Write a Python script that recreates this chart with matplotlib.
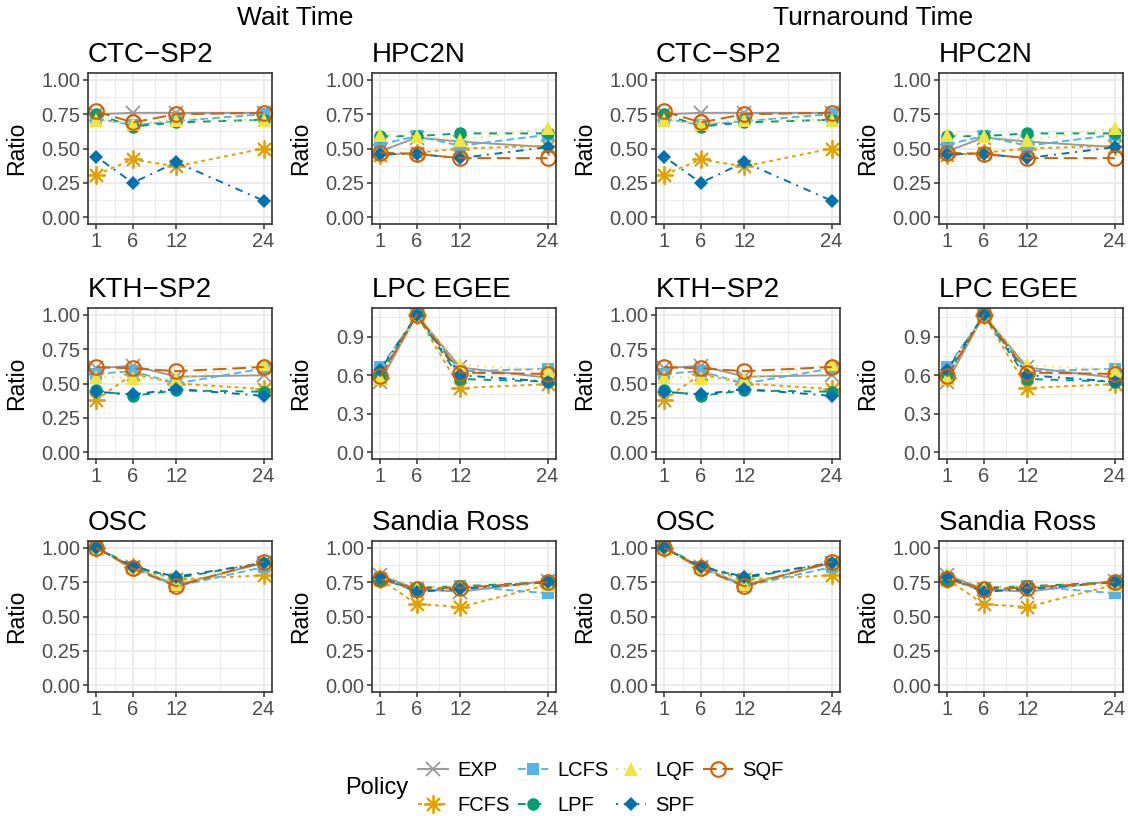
import matplotlib
matplotlib.use('Agg')
import matplotlib.pyplot as plt
from matplotlib.lines import Line2D

plt.rcParams['font.family'] = ['Liberation Sans', 'DejaVu Sans']

# window length (hours)
hours = [1, 6, 12, 24]
policies = ['EXP', 'FCFS', 'LCFS', 'LPF', 'LQF', 'SPF', 'SQF']

# ratio per policy (same values in both halves)
ctc_sp2 = {
    'EXP':  [0.75, 0.76, 0.76, 0.76],
    'FCFS': [0.31, 0.42, 0.37, 0.50],
    'LCFS': [0.72, 0.67, 0.70, 0.75],
    'LPF':  [0.75, 0.66, 0.69, 0.71],
    'LQF':  [0.71, 0.68, 0.71, 0.71],
    'SPF':  [0.44, 0.25, 0.40, 0.12],
    'SQF':  [0.77, 0.69, 0.75, 0.76],
}
hpc2n = {
    'EXP':  [0.48, 0.58, 0.55, 0.51],
    'FCFS': [0.45, 0.47, 0.50, 0.52],
    'LCFS': [0.53, 0.59, 0.52, 0.60],
    'LPF':  [0.59, 0.59, 0.61, 0.61],
    'LQF':  [0.60, 0.59, 0.56, 0.65],
    'SPF':  [0.46, 0.46, 0.43, 0.51],
    'SQF':  [0.47, 0.46, 0.43, 0.43],
}
kth_sp2 = {
    'EXP':  [0.61, 0.63, 0.55, 0.56],
    'FCFS': [0.38, 0.57, 0.50, 0.46],
    'LCFS': [0.57, 0.59, 0.50, 0.61],
    'LPF':  [0.45, 0.41, 0.45, 0.44],
    'LQF':  [0.55, 0.54, 0.53, 0.64],
    'SPF':  [0.44, 0.42, 0.46, 0.41],
    'SQF':  [0.62, 0.61, 0.59, 0.62],
}
lpc_egee = {
    'EXP':  [0.55, 1.07, 0.66, 0.58],
    'FCFS': [0.58, 1.07, 0.50, 0.53],
    'LCFS': [0.66, 1.06, 0.63, 0.65],
    'LPF':  [0.60, 1.07, 0.57, 0.55],
    'LQF':  [0.58, 1.07, 0.68, 0.64],
    'SPF':  [0.64, 1.07, 0.60, 0.55],
    'SQF':  [0.59, 1.07, 0.62, 0.61],
}
osc = {
    'EXP':  [1.00, 0.86, 0.73, 0.89],
    'FCFS': [1.00, 0.86, 0.77, 0.80],
    'LCFS': [1.00, 0.86, 0.72, 0.86],
    'LPF':  [1.00, 0.87, 0.78, 0.89],
    'LQF':  [1.00, 0.86, 0.74, 0.90],
    'SPF':  [1.00, 0.86, 0.79, 0.89],
    'SQF':  [1.00, 0.85, 0.72, 0.90],
}
sandia_ross = {
    'EXP':  [0.80, 0.70, 0.68, 0.76],
    'FCFS': [0.77, 0.59, 0.57, 0.73],
    'LCFS': [0.78, 0.68, 0.72, 0.67],
    'LPF':  [0.76, 0.71, 0.72, 0.75],
    'LQF':  [0.82, 0.71, 0.72, 0.73],
    'SPF':  [0.79, 0.68, 0.70, 0.75],
    'SQF':  [0.77, 0.70, 0.71, 0.75],
}

panels = [
    ('CTC\u2212SP2', ctc_sp2), ('HPC2N', hpc2n),
    ('KTH\u2212SP2', kth_sp2), ('LPC EGEE', lpc_egee),
    ('OSC', osc), ('Sandia Ross', sandia_ross),
]

colors = {'EXP': '#999999', 'FCFS': '#E69F00', 'LCFS': '#56B4E9', 'LPF': '#009E73',
          'LQF': '#F0E442', 'SPF': '#0072B2', 'SQF': '#D55E00'}
linestyles = {'EXP': '-', 'FCFS': (0, (2, 2)), 'LCFS': (0, (4, 2)), 'LPF': (0, (4, 4)),
              'LQF': (0, (1, 3)), 'SPF': (0, (1, 3, 4, 3)), 'SQF': (0, (7, 3))}
markers = {'EXP': 'x', 'FCFS': (8, 2, 0), 'LCFS': 's', 'LPF': 'o',
           'LQF': '^', 'SPF': 'D', 'SQF': 'o'}
msizes = {'EXP': 10.5, 'FCFS': 13, 'LCFS': 8.5, 'LPF': 9, 'LQF': 10.5, 'SPF': 7, 'SQF': 10.5}

W, H = 1128, 816
fig = plt.figure(figsize=(W / 100, H / 100), dpi=100)

col_left = [88, 372, 656, 939]
row_top = [73, 308, 541]
aw, ah = 184, 151


def style(p):
    kw = dict(color=colors[p], linestyle=linestyles[p], linewidth=1.4,
              marker=markers[p], markersize=msizes[p])
    if p == 'SQF':
        kw.update(markerfacecolor='none', markeredgewidth=1.5)
    elif p in ('EXP', 'FCFS'):
        kw.update(markeredgewidth=1.3)
    else:
        kw.update(markeredgewidth=0)
    return kw


def draw_panel(ax, title, data):
    for p in policies:
        ax.plot(hours, data[p], **style(p))
    ax.set_xlim(-0.15, 25.15)
    ax.set_xticks(hours)
    ax.set_xticks([3.5, 9, 18], minor=True)
    top = max(max(v) for v in data.values())
    if top > 1.02:
        ax.set_ylim(-0.054, 1.124)
        ax.set_yticks([0, 0.3, 0.6, 0.9])
        ax.set_yticks([0.15, 0.45, 0.75, 1.05], minor=True)
        ax.set_yticklabels(['0.0', '0.3', '0.6', '0.9'])
    else:
        ax.set_ylim(-0.05, 1.05)
        ax.set_yticks([0, 0.25, 0.5, 0.75, 1.0])
        ax.set_yticks([0.125, 0.375, 0.625, 0.875], minor=True)
        ax.set_yticklabels(['0.00', '0.25', '0.50', '0.75', '1.00'])
    ax.grid(True, which='major', color='#EBEBEB', linewidth=1.4)
    ax.grid(True, which='minor', color='#EBEBEB', linewidth=0.7)
    ax.set_axisbelow(True)
    for s in ax.spines.values():
        s.set_color('#333333')
        s.set_linewidth(1.2)
    ax.tick_params(which='major', length=3.5, width=1.1, color='#333333',
                   labelcolor='#4D4D4D', labelsize=14.5, pad=2)
    ax.tick_params(which='minor', length=0)
    ax.set_ylabel('Ratio', fontsize=16.5)
    ax.yaxis.set_label_coords(-60 / aw, 0.5)
    ax.set_title(title, loc='left', fontsize=20, pad=8)


for half in range(2):
    for i, (title, data) in enumerate(panels):
        r, c = divmod(i, 2)
        left = col_left[half * 2 + c]
        top = row_top[r]
        ax = fig.add_axes([left / W, 1 - (top + ah) / H, aw / W, ah / H])
        draw_panel(ax, title, data)

fig.text(295 / W, 1 - 18 / H, 'Wait Time', ha='center', va='center', fontsize=19)
fig.text(873 / W, 1 - 18 / H, 'Turnaround Time', ha='center', va='center', fontsize=19)

handles = [Line2D([], [], **style(p)) for p in policies]
fig.legend(handles, policies, loc='center left', bbox_to_anchor=(418 / W, 1 - 788 / H),
           ncol=4, frameon=False, fontsize=14.5, handlelength=1.5, handletextpad=0.45,
           columnspacing=0.4, labelspacing=0.75, borderpad=0, borderaxespad=0)
fig.text(345 / W, 1 - 788 / H, 'Policy', ha='left', va='center', fontsize=17)

fig.savefig('out.png', dpi=100)
